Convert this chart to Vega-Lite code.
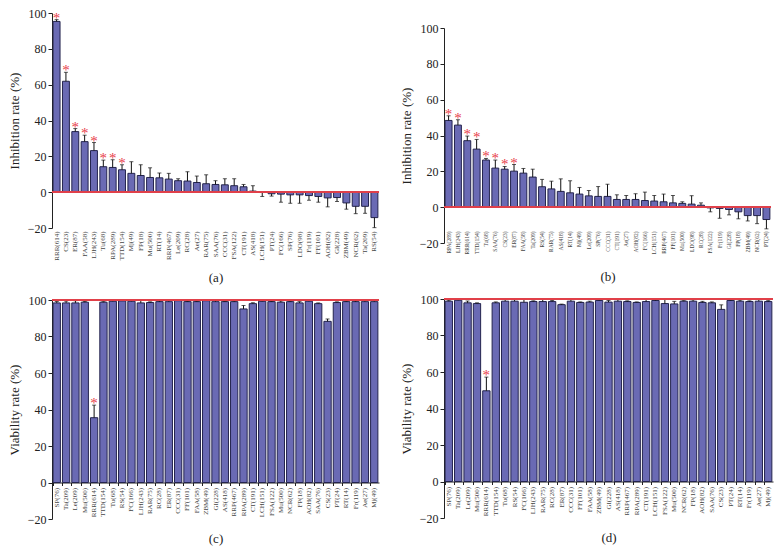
{
 "$schema": "https://vega.github.io/schema/vega-lite/v6.json",
 "padding": {"left": 8, "top": 7, "right": 0, "bottom": 0},
 "spacing": 20,
 "hconcat": [
  {"spacing": 9, "vconcat": [
   {"width": 327, "height": 215, "data": {"name": "a"},
    "layer": [
     {"mark": {"type": "bar", "fill": "#6a6ab4", "stroke": "#24244e", "strokeWidth": 1}, "encoding": {
       "x": {"field": "k", "type": "nominal", "sort": null, "title": "(a)", "scale": {"paddingInner": 0.26, "paddingOuter": 0.12}, "axis": {"labelAngle": 270, "labelFontSize": 7, "titlePadding": 11, "domain": false, "ticks": false, "labelPadding": 3}},
       "y": {"field": "v", "type": "quantitative", "title": "Inhibition rate (%)", "scale": {"domain": [-20, 100], "nice": false}, "axis": {"values": [-20, 0, 20, 40, 60, 80, 100]}}}},
     {"mark": {"type": "rule", "color": "#111"}, "encoding": {
       "x": {"field": "k", "type": "nominal", "sort": null, "title": "(a)", "axis": {"labelAngle": 270, "labelFontSize": 7, "titlePadding": 11, "domain": false, "ticks": false, "labelPadding": 3}},
       "y": {"field": "v", "type": "quantitative", "title": "Inhibition rate (%)", "axis": {"values": [-20, 0, 20, 40, 60, 80, 100]}}, "y2": {"field": "e"}}},
     {"mark": {"type": "tick", "color": "#111", "size": 4, "thickness": 1}, "encoding": {
       "x": {"field": "k", "type": "nominal", "sort": null, "title": "(a)", "axis": {"labelAngle": 270, "labelFontSize": 7, "titlePadding": 11, "domain": false, "ticks": false, "labelPadding": 3}},
       "y": {"field": "e", "type": "quantitative", "title": "Inhibition rate (%)", "axis": {"values": [-20, 0, 20, 40, 60, 80, 100]}}}},
     {"mark": {"type": "rule", "color": "#e0404a", "strokeWidth": 1.5}, "encoding": {"y": {"datum": 0, "type": "quantitative", "title": "Inhibition rate (%)", "axis": {"values": [-20, 0, 20, 40, 60, 80, 100]}}}},
     {"transform": [{"filter": "datum.s == 1"}], "mark": {"type": "text", "text": "*", "color": "#e8404a", "fontSize": 15, "baseline": "middle", "dy": -2}, "encoding": {
       "x": {"field": "k", "type": "nominal", "sort": null, "title": "(a)", "axis": {"labelAngle": 270, "labelFontSize": 7, "titlePadding": 11, "domain": false, "ticks": false, "labelPadding": 3}},
       "y": {"field": "e", "type": "quantitative", "title": "Inhibition rate (%)", "axis": {"values": [-20, 0, 20, 40, 60, 80, 100]}}}}
    ]},
   {"width": 327, "height": 219, "data": {"name": "c"},
    "layer": [
     {"mark": {"type": "bar", "fill": "#6a6ab4", "stroke": "#24244e", "strokeWidth": 1}, "encoding": {
       "x": {"field": "k", "type": "nominal", "sort": null, "title": "(c)", "scale": {"paddingInner": 0.22, "paddingOuter": 0.12}, "axis": {"labelAngle": 270, "labelFontSize": 7, "titlePadding": 16, "offset": -36.5, "domain": true, "ticks": true, "tickSize": 3, "bandPosition": 0, "labelPadding": 2}},
       "y": {"field": "v", "type": "quantitative", "title": "Viability rate (%)", "scale": {"domain": [-20, 100], "nice": false}, "axis": {"values": [-20, 0, 20, 40, 60, 80, 100]}}}},
     {"mark": {"type": "rule", "color": "#111"}, "encoding": {
       "x": {"field": "k", "type": "nominal", "sort": null, "title": "(c)", "axis": {"labelAngle": 270, "labelFontSize": 7, "titlePadding": 16, "offset": -36.5, "domain": true, "ticks": true, "tickSize": 3, "bandPosition": 0, "labelPadding": 2}},
       "y": {"field": "v", "type": "quantitative", "title": "Viability rate (%)", "axis": {"values": [-20, 0, 20, 40, 60, 80, 100]}}, "y2": {"field": "e"}}},
     {"mark": {"type": "tick", "color": "#111", "size": 4, "thickness": 1}, "encoding": {
       "x": {"field": "k", "type": "nominal", "sort": null, "title": "(c)", "axis": {"labelAngle": 270, "labelFontSize": 7, "titlePadding": 16, "offset": -36.5, "domain": true, "ticks": true, "tickSize": 3, "bandPosition": 0, "labelPadding": 2}},
       "y": {"field": "e", "type": "quantitative", "title": "Viability rate (%)", "axis": {"values": [-20, 0, 20, 40, 60, 80, 100]}}}},
     {"mark": {"type": "rule", "color": "#e0404a", "strokeWidth": 1.5}, "encoding": {"y": {"datum": 100, "type": "quantitative", "title": "Viability rate (%)", "axis": {"values": [-20, 0, 20, 40, 60, 80, 100]}}}},
     {"transform": [{"filter": "datum.s == 1"}], "mark": {"type": "text", "text": "*", "color": "#e8404a", "fontSize": 15, "baseline": "middle", "dy": -2}, "encoding": {
       "x": {"field": "k", "type": "nominal", "sort": null, "title": "(c)", "axis": {"labelAngle": 270, "labelFontSize": 7, "titlePadding": 16, "offset": -36.5, "domain": true, "ticks": true, "tickSize": 3, "bandPosition": 0, "labelPadding": 2}},
       "y": {"field": "e", "type": "quantitative", "title": "Viability rate (%)", "axis": {"values": [-20, 0, 20, 40, 60, 80, 100]}}}}
    ]}
  ]},
  {"spacing": 9, "vconcat": [
   {"spacing": 0, "vconcat": [
    {"width": 327, "height": 9, "data": {"values": [{"z": 1}]}, "mark": {"type": "point", "opacity": 0}, "encoding": {}},
    {"width": 327, "height": 215, "data": {"name": "b"},
     "layer": [
      {"mark": {"type": "bar", "fill": "#6a6ab4", "stroke": "#24244e", "strokeWidth": 1}, "encoding": {
        "x": {"field": "k", "type": "nominal", "sort": null, "title": "(b)", "scale": {"paddingInner": 0.26, "paddingOuter": 0.12}, "axis": {"labelAngle": 270, "labelFontSize": 5.5, "titlePadding": 17, "offset": -14, "domain": false, "ticks": false, "labelPadding": 2}},
        "y": {"field": "v", "type": "quantitative", "title": "Inhibition rate (%)", "scale": {"domain": [-20, 100], "nice": false}, "axis": {"values": [-20, 0, 20, 40, 60, 80, 100]}}}},
      {"mark": {"type": "rule", "color": "#111"}, "encoding": {
        "x": {"field": "k", "type": "nominal", "sort": null, "title": "(b)", "axis": {"labelAngle": 270, "labelFontSize": 5.5, "titlePadding": 17, "offset": -14, "domain": false, "ticks": false, "labelPadding": 2}},
        "y": {"field": "v", "type": "quantitative", "title": "Inhibition rate (%)", "axis": {"values": [-20, 0, 20, 40, 60, 80, 100]}}, "y2": {"field": "e"}}},
      {"mark": {"type": "tick", "color": "#111", "size": 4, "thickness": 1}, "encoding": {
        "x": {"field": "k", "type": "nominal", "sort": null, "title": "(b)", "axis": {"labelAngle": 270, "labelFontSize": 5.5, "titlePadding": 17, "offset": -14, "domain": false, "ticks": false, "labelPadding": 2}},
        "y": {"field": "e", "type": "quantitative", "title": "Inhibition rate (%)", "axis": {"values": [-20, 0, 20, 40, 60, 80, 100]}}}},
      {"mark": {"type": "rule", "color": "#e0404a", "strokeWidth": 1.5}, "encoding": {"y": {"datum": 0, "type": "quantitative", "title": "Inhibition rate (%)", "axis": {"values": [-20, 0, 20, 40, 60, 80, 100]}}}},
      {"transform": [{"filter": "datum.s == 1"}], "mark": {"type": "text", "text": "*", "color": "#e8404a", "fontSize": 15, "baseline": "middle", "dy": -2}, "encoding": {
        "x": {"field": "k", "type": "nominal", "sort": null, "title": "(b)", "axis": {"labelAngle": 270, "labelFontSize": 5.5, "titlePadding": 17, "offset": -14, "domain": false, "ticks": false, "labelPadding": 2}},
        "y": {"field": "e", "type": "quantitative", "title": "Inhibition rate (%)", "axis": {"values": [-20, 0, 20, 40, 60, 80, 100]}}}}
     ]}
   ]},
   {"width": 329, "height": 219, "data": {"name": "d"},
    "layer": [
     {"mark": {"type": "bar", "fill": "#6a6ab4", "stroke": "#24244e", "strokeWidth": 1}, "encoding": {
       "x": {"field": "k", "type": "nominal", "sort": null, "title": "(d)", "scale": {"paddingInner": 0.22, "paddingOuter": 0.12}, "axis": {"labelAngle": 270, "labelFontSize": 7, "titlePadding": 16, "offset": -36.5, "domain": true, "ticks": true, "tickSize": 3, "bandPosition": 0, "labelPadding": 2}},
       "y": {"field": "v", "type": "quantitative", "title": "Viability rate (%)", "scale": {"domain": [-20, 100], "nice": false}, "axis": {"values": [-20, 0, 20, 40, 60, 80, 100]}}}},
     {"mark": {"type": "rule", "color": "#111"}, "encoding": {
       "x": {"field": "k", "type": "nominal", "sort": null, "title": "(d)", "axis": {"labelAngle": 270, "labelFontSize": 7, "titlePadding": 16, "offset": -36.5, "domain": true, "ticks": true, "tickSize": 3, "bandPosition": 0, "labelPadding": 2}},
       "y": {"field": "v", "type": "quantitative", "title": "Viability rate (%)", "axis": {"values": [-20, 0, 20, 40, 60, 80, 100]}}, "y2": {"field": "e"}}},
     {"mark": {"type": "tick", "color": "#111", "size": 4, "thickness": 1}, "encoding": {
       "x": {"field": "k", "type": "nominal", "sort": null, "title": "(d)", "axis": {"labelAngle": 270, "labelFontSize": 7, "titlePadding": 16, "offset": -36.5, "domain": true, "ticks": true, "tickSize": 3, "bandPosition": 0, "labelPadding": 2}},
       "y": {"field": "e", "type": "quantitative", "title": "Viability rate (%)", "axis": {"values": [-20, 0, 20, 40, 60, 80, 100]}}}},
     {"mark": {"type": "rule", "color": "#e0404a", "strokeWidth": 1.5}, "encoding": {"y": {"datum": 100, "type": "quantitative", "title": "Viability rate (%)", "axis": {"values": [-20, 0, 20, 40, 60, 80, 100]}}}},
     {"transform": [{"filter": "datum.s == 1"}], "mark": {"type": "text", "text": "*", "color": "#e8404a", "fontSize": 15, "baseline": "middle", "dy": -2}, "encoding": {
       "x": {"field": "k", "type": "nominal", "sort": null, "title": "(d)", "axis": {"labelAngle": 270, "labelFontSize": 7, "titlePadding": 16, "offset": -36.5, "domain": true, "ticks": true, "tickSize": 3, "bandPosition": 0, "labelPadding": 2}},
       "y": {"field": "e", "type": "quantitative", "title": "Viability rate (%)", "axis": {"values": [-20, 0, 20, 40, 60, 80, 100]}}}}
    ]}
  ]}
 ],
 "config": {
  "font": "Liberation Serif",
  "view": {"stroke": null},
  "axis": {"grid": false, "labelColor": "#222", "titleColor": "#222", "titleFontWeight": "normal", "domainColor": "#222", "tickColor": "#222", "titleFont": "Liberation Serif", "labelFont": "Liberation Serif", "labelOverlap": false},
  "axisY": {"labelFontSize": 12, "titleFontSize": 13, "tickSize": 4, "titlePadding": 6, "labelPadding": 2},
  "axisX": {"labelFontSize": 7, "titleFontSize": 13, "labelColor": "#444"}
 },
 "datasets": {
  "a": [
   {"k": "RRR(614)", "v": 95.3, "e": 96.3, "s": 1},
   {"k": "CS(23)", "v": 61.9, "e": 66.9, "s": 1},
   {"k": "ER(87)", "v": 33.8, "e": 35.5, "s": 1},
   {"k": "FAA(58)", "v": 28.2, "e": 31.8, "s": 1},
   {"k": "LJH(243)", "v": 23.2, "e": 27.7, "s": 1},
   {"k": "Tu(68)", "v": 14.2, "e": 17.9, "s": 1},
   {"k": "RPA(289)", "v": 13.8, "e": 18.1, "s": 1},
   {"k": "TTD(154)", "v": 12.5, "e": 15.3, "s": 1},
   {"k": "Mj(49)", "v": 10.5, "e": 17.0, "s": 0},
   {"k": "FP(18)", "v": 9.3, "e": 15.3, "s": 0},
   {"k": "Mu(500)", "v": 8.2, "e": 13.6, "s": 0},
   {"k": "RT(14)", "v": 8.0, "e": 10.7, "s": 0},
   {"k": "RRP(467)", "v": 7.3, "e": 10.5, "s": 0},
   {"k": "Le(209)", "v": 6.4, "e": 7.5, "s": 0},
   {"k": "RC(28)", "v": 6.2, "e": 11.4, "s": 0},
   {"k": "Ae(27)", "v": 5.4, "e": 9.0, "s": 0},
   {"k": "RAR(75)", "v": 4.7, "e": 9.7, "s": 0},
   {"k": "SAA(76)", "v": 4.3, "e": 6.4, "s": 0},
   {"k": "CCC(31)", "v": 4.1, "e": 7.5, "s": 0},
   {"k": "FSA(122)", "v": 3.6, "e": 7.5, "s": 0},
   {"k": "CT(191)", "v": 3.0, "e": 4.3, "s": 0},
   {"k": "AS(418)", "v": 0.6, "e": 3.6, "s": 0},
   {"k": "LCH(151)", "v": -0.2, "e": -2.4, "s": 0},
   {"k": "PT(24)", "v": -0.9, "e": -2.2, "s": 0},
   {"k": "FC(166)", "v": -1.1, "e": -5.6, "s": 0},
   {"k": "SP(76)", "v": -1.5, "e": -6.2, "s": 0},
   {"k": "LDO(98)", "v": -1.5, "e": -6.2, "s": 0},
   {"k": "Fr(119)", "v": -1.9, "e": -4.5, "s": 0},
   {"k": "FF(101)", "v": -2.4, "e": -5.6, "s": 0},
   {"k": "AOH(82)", "v": -3.2, "e": -8.2, "s": 0},
   {"k": "GI(228)", "v": -3.0, "e": -5.2, "s": 0},
   {"k": "ZBM(49)", "v": -6.0, "e": -9.5, "s": 0},
   {"k": "NCR(62)", "v": -7.9, "e": -12.0, "s": 0},
   {"k": "Ta(209)", "v": -7.9, "e": -11.8, "s": 0},
   {"k": "RS(54)", "v": -14.2, "e": -19.8, "s": 0}
  ],
  "b": [
   {"k": "RPA(289)", "v": 48.4, "e": 51.0, "s": 1},
   {"k": "LJH(243)", "v": 45.8, "e": 48.8, "s": 1},
   {"k": "RRR(614)", "v": 37.1, "e": 39.7, "s": 1},
   {"k": "TTD(154)", "v": 32.4, "e": 37.8, "s": 1},
   {"k": "Tu(68)", "v": 26.3, "e": 27.2, "s": 1},
   {"k": "SAA(76)", "v": 21.8, "e": 26.3, "s": 1},
   {"k": "CS(23)", "v": 21.2, "e": 22.7, "s": 1},
   {"k": "ER(87)", "v": 20.1, "e": 23.8, "s": 1},
   {"k": "FAA(58)", "v": 19.0, "e": 21.6, "s": 0},
   {"k": "Ta(209)", "v": 16.8, "e": 21.2, "s": 0},
   {"k": "RS(54)", "v": 11.4, "e": 15.5, "s": 0},
   {"k": "RAR(75)", "v": 10.2, "e": 14.5, "s": 0},
   {"k": "AS(418)", "v": 8.8, "e": 15.8, "s": 0},
   {"k": "RT(14)", "v": 8.0, "e": 14.7, "s": 0},
   {"k": "Mj(49)", "v": 7.3, "e": 11.0, "s": 0},
   {"k": "Le(209)", "v": 6.3, "e": 9.3, "s": 0},
   {"k": "SP(76)", "v": 6.0, "e": 11.5, "s": 0},
   {"k": "CCC(31)", "v": 6.0, "e": 12.8, "s": 0},
   {"k": "CT(191)", "v": 4.3, "e": 6.9, "s": 0},
   {"k": "Ae(27)", "v": 4.3, "e": 6.5, "s": 0},
   {"k": "AOH(82)", "v": 4.3, "e": 7.5, "s": 0},
   {"k": "FC(166)", "v": 3.7, "e": 8.4, "s": 0},
   {"k": "LCH(151)", "v": 3.4, "e": 6.5, "s": 0},
   {"k": "RRP(467)", "v": 3.0, "e": 7.3, "s": 0},
   {"k": "FF(101)", "v": 2.4, "e": 6.5, "s": 0},
   {"k": "Mu(500)", "v": 2.1, "e": 3.0, "s": 0},
   {"k": "LDO(98)", "v": 1.7, "e": 6.4, "s": 0},
   {"k": "RC(28)", "v": 1.1, "e": 2.4, "s": 0},
   {"k": "FSA(122)", "v": -0.4, "e": -2.6, "s": 0},
   {"k": "Fr(119)", "v": -0.7, "e": -6.2, "s": 0},
   {"k": "GI(228)", "v": -1.3, "e": -4.3, "s": 0},
   {"k": "FP(18)", "v": -2.6, "e": -6.5, "s": 0},
   {"k": "ZBM(49)", "v": -4.7, "e": -7.7, "s": 0},
   {"k": "NCR(62)", "v": -4.7, "e": -9.2, "s": 0},
   {"k": "PT(24)", "v": -6.9, "e": -12.1, "s": 0}
  ],
  "c": [
   {"k": "SP(76)", "v": 98.4, "e": 99.2, "s": 0},
   {"k": "Ta(209)", "v": 98.4, "e": 99.4, "s": 0},
   {"k": "Le(209)", "v": 98.4, "e": 99.6, "s": 0},
   {"k": "Mu(500)", "v": 98.8, "e": 99.2, "s": 0},
   {"k": "RRR(614)", "v": 35.5, "e": 42.4, "s": 1},
   {"k": "TTD(154)", "v": 98.8, "e": 99.1, "s": 0},
   {"k": "Tu(68)", "v": 99.3, "e": 99.9, "s": 0},
   {"k": "RS(54)", "v": 99.5, "e": 100.2, "s": 0},
   {"k": "FC(166)", "v": 99.3, "e": 99.7, "s": 0},
   {"k": "LJH(243)", "v": 98.4, "e": 99.9, "s": 0},
   {"k": "RAR(75)", "v": 98.6, "e": 99.0, "s": 0},
   {"k": "RC(28)", "v": 99.1, "e": 99.5, "s": 0},
   {"k": "ER(87)", "v": 99.1, "e": 99.8, "s": 0},
   {"k": "CCC(31)", "v": 99.6, "e": 100.0, "s": 0},
   {"k": "FF(101)", "v": 99.1, "e": 99.3, "s": 0},
   {"k": "FAA(58)", "v": 99.1, "e": 99.4, "s": 0},
   {"k": "ZBM(49)", "v": 99.6, "e": 99.9, "s": 0},
   {"k": "GI(228)", "v": 99.1, "e": 99.8, "s": 0},
   {"k": "AS(418)", "v": 99.1, "e": 99.3, "s": 0},
   {"k": "RRP(467)", "v": 99.1, "e": 99.5, "s": 0},
   {"k": "RPA(289)", "v": 95.1, "e": 97.0, "s": 0},
   {"k": "CT(191)", "v": 98.0, "e": 98.5, "s": 0},
   {"k": "LCH(151)", "v": 99.3, "e": 99.6, "s": 0},
   {"k": "FSA(122)", "v": 99.1, "e": 99.3, "s": 0},
   {"k": "Mu(500) ", "v": 98.8, "e": 99.5, "s": 0},
   {"k": "NCR(62)", "v": 99.1, "e": 99.4, "s": 0},
   {"k": "FP(18)", "v": 98.4, "e": 99.1, "s": 0},
   {"k": "AOH(82)", "v": 99.3, "e": 99.8, "s": 0},
   {"k": "SAA(76)", "v": 98.0, "e": 98.4, "s": 0},
   {"k": "CS(23)", "v": 88.3, "e": 89.6, "s": 0},
   {"k": "PT(24)", "v": 98.6, "e": 99.0, "s": 0},
   {"k": "RT(14)", "v": 99.1, "e": 99.4, "s": 0},
   {"k": "Fr(119)", "v": 99.1, "e": 99.5, "s": 0},
   {"k": "Ae(27)", "v": 99.1, "e": 100.0, "s": 0},
   {"k": "Mj(49)", "v": 99.1, "e": 99.9, "s": 0}
  ],
  "d": [
   {"k": "SP(76)", "v": 98.8, "e": 99.3, "s": 0},
   {"k": "Ta(209)", "v": 99.3, "e": 99.7, "s": 0},
   {"k": "Le(209)", "v": 97.9, "e": 98.9, "s": 0},
   {"k": "Mu(500)", "v": 97.5, "e": 97.9, "s": 0},
   {"k": "RRR(614)", "v": 49.7, "e": 57.2, "s": 1},
   {"k": "TTD(154)", "v": 97.9, "e": 98.4, "s": 0},
   {"k": "Tu(68)", "v": 98.8, "e": 99.8, "s": 0},
   {"k": "RS(54)", "v": 98.8, "e": 99.8, "s": 0},
   {"k": "FC(166)", "v": 98.2, "e": 100.0, "s": 0},
   {"k": "LJH(243)", "v": 98.6, "e": 99.0, "s": 0},
   {"k": "RAR(75)", "v": 98.6, "e": 99.8, "s": 0},
   {"k": "RC(28)", "v": 98.6, "e": 99.2, "s": 0},
   {"k": "ER(87)", "v": 96.9, "e": 97.2, "s": 0},
   {"k": "CCC(31)", "v": 98.8, "e": 99.7, "s": 0},
   {"k": "FF(101)", "v": 98.1, "e": 98.4, "s": 0},
   {"k": "FAA(58)", "v": 98.3, "e": 98.8, "s": 0},
   {"k": "ZBM(49)", "v": 99.2, "e": 99.6, "s": 0},
   {"k": "GI(228)", "v": 98.3, "e": 99.2, "s": 0},
   {"k": "AS(418)", "v": 98.8, "e": 99.8, "s": 0},
   {"k": "RRP(467)", "v": 98.6, "e": 99.0, "s": 0},
   {"k": "RPA(289)", "v": 98.1, "e": 98.4, "s": 0},
   {"k": "CT(191)", "v": 98.6, "e": 99.9, "s": 0},
   {"k": "LCH(151)", "v": 99.2, "e": 99.6, "s": 0},
   {"k": "FSA(122)", "v": 97.5, "e": 100.0, "s": 0},
   {"k": "Mu(500) ", "v": 97.3, "e": 98.7, "s": 0},
   {"k": "NCR(62)", "v": 98.8, "e": 99.1, "s": 0},
   {"k": "FP(18)", "v": 98.8, "e": 99.6, "s": 0},
   {"k": "AOH(82)", "v": 98.1, "e": 98.7, "s": 0},
   {"k": "SAA(76)", "v": 97.9, "e": 98.4, "s": 0},
   {"k": "CS(23)", "v": 94.3, "e": 96.8, "s": 0},
   {"k": "PT(24)", "v": 99.2, "e": 99.5, "s": 0},
   {"k": "RT(14)", "v": 98.8, "e": 99.4, "s": 0},
   {"k": "Fr(119)", "v": 98.6, "e": 99.0, "s": 0},
   {"k": "Ae(27)", "v": 98.8, "e": 100.2, "s": 0},
   {"k": "Mj(49)", "v": 98.6, "e": 99.1, "s": 0}
  ]
 }
}
